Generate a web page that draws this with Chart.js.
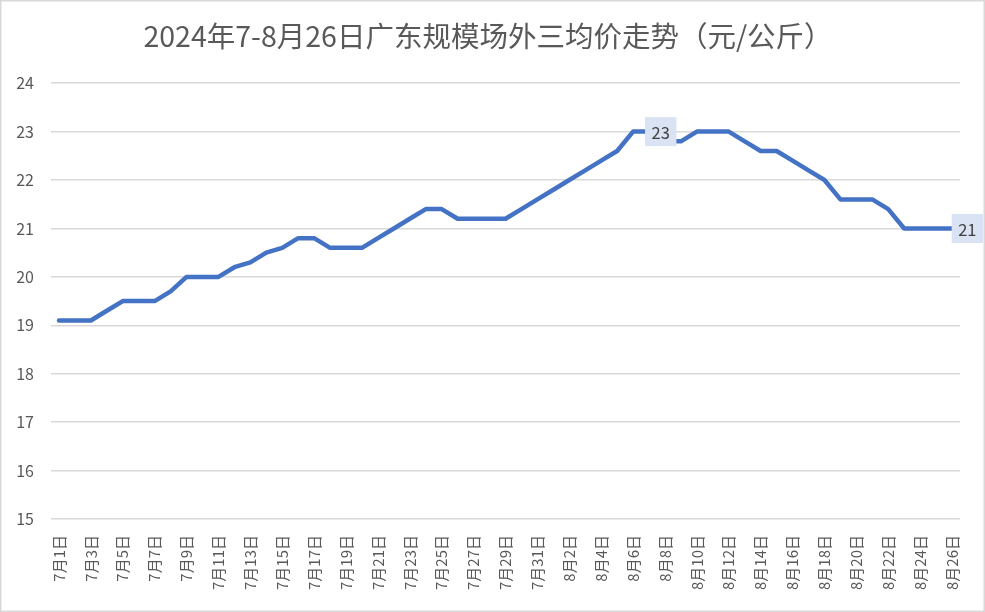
<!DOCTYPE html>
<html>
<head>
<meta charset="utf-8">
<script src="https://cdn.jsdelivr.net/npm/chart.js@4.4.1/dist/chart.umd.min.js"></script>
<style>
html,body{margin:0;padding:0;background:#fff;}
#wrap{width:985px;height:612px;position:relative;}
</style>
</head>
<body>
<div id="wrap"><canvas id="c" width="985" height="612"></canvas></div>
<script>
const titleText = '2024年7-8月26日广东规模场外三均价走势（元/公斤）';
const categories = [
  '7月1日','7月2日','7月3日','7月4日','7月5日','7月6日','7月7日','7月8日','7月9日','7月10日',
  '7月11日','7月12日','7月13日','7月14日','7月15日','7月16日','7月17日','7月18日','7月19日','7月20日',
  '7月21日','7月22日','7月23日','7月24日','7月25日','7月26日','7月27日','7月28日','7月29日','7月30日',
  '7月31日','8月1日','8月2日','8月3日','8月4日','8月5日','8月6日','8月7日','8月8日','8月9日',
  '8月10日','8月11日','8月12日','8月13日','8月14日','8月15日','8月16日','8月17日','8月18日','8月19日',
  '8月20日','8月21日','8月22日','8月23日','8月24日','8月25日','8月26日'
];
const prices = [
  19.1,19.1,19.1,19.3,19.5,19.5,19.5,19.7,20.0,20.0,
  20.0,20.2,20.3,20.5,20.6,20.8,20.8,20.6,20.6,20.6,
  20.8,21.0,21.2,21.4,21.4,21.2,21.2,21.2,21.2,21.4,
  21.6,21.8,22.0,22.2,22.4,22.6,23.0,23.0,22.8,22.8,
  23.0,23.0,23.0,22.8,22.6,22.6,22.4,22.2,22.0,21.6,
  21.6,21.6,21.4,21.0,21.0,21.0,21.0
];
const labeledIndices = [36, 56];
const yMin = 15, yMax = 24, yStep = 1;

const FONT = "'Noto Sans CJK SC', 'Noto Sans', sans-serif";

const bgPlugin = {
  id: 'bg',
  beforeDraw(chart) {
    const ctx = chart.ctx;
    ctx.save();
    ctx.fillStyle = '#ffffff';
    ctx.fillRect(0, 0, chart.width, chart.height);
    ctx.strokeStyle = '#d9d9d9';
    ctx.lineWidth = 1.5;
    ctx.strokeRect(0.75, 0.75, chart.width - 1.5, chart.height - 1.5);
    ctx.restore();
  }
};

const labelPlugin = {
  id: 'pointLabels',
  afterDatasetsDraw(chart) {
    const ctx = chart.ctx;
    const meta = chart.getDatasetMeta(0);
    ctx.save();
    ctx.font = '16.5px ' + FONT;
    labeledIndices.forEach(i => {
      const pt = meta.data[i];
      const txt = String(Math.round(prices[i]));
      const w = ctx.measureText(txt).width + 13;
      const h = 29;
      let left = pt.x + 12;
      if (left + w > chart.width - 2) left = chart.width - 2 - w;
      ctx.fillStyle = '#dae3f3';
      ctx.fillRect(left, pt.y - h / 2, w, h);
      ctx.fillStyle = '#404040';
      ctx.textAlign = 'center';
      ctx.textBaseline = 'middle';
      ctx.fillText(txt, left + w / 2, pt.y + 1);
    });
    ctx.restore();
  }
};

new Chart(document.getElementById('c'), {
  type: 'line',
  data: {
    labels: categories,
    datasets: [{
      data: prices,
      borderColor: '#4472c4',
      borderWidth: 4.5,
      pointRadius: 0,
      tension: 0,
      borderJoinStyle: 'round',
      borderCapStyle: 'round',
      fill: false
    }]
  },
  options: {
    responsive: false,
    animation: false,
    layout: { padding: { left: 16, right: 25, top: 0, bottom: 0 } },
    plugins: {
      legend: { display: false },
      tooltip: { enabled: false },
      title: {
        display: true,
        text: titleText,
        color: '#595959',
        font: { family: FONT, size: 28.5, weight: 'normal' },
        padding: { top: 19, bottom: 30 }
      }
    },
    scales: {
      x: {
        offset: true,
        grid: { display: false, drawTicks: false },
        border: { display: false },
        afterFit: function(s) { s.paddingLeft = 0; s.paddingRight = 0; s.height = 93; },
        ticks: {
          autoSkip: false,
          maxRotation: 90,
          minRotation: 90,
          padding: 16,
          color: '#595959',
          font: { family: FONT, size: 15 },
          callback: function(v, i) { return i % 2 === 0 ? categories[i] : ''; }
        }
      },
      y: {
        min: yMin,
        max: yMax,
        grid: { color: '#d9d9d9', lineWidth: 1.5, drawTicks: false },
        border: { display: false },
        afterFit: function(s) { s.width = 35; },
        ticks: {
          stepSize: yStep,
          padding: 17,
          color: '#595959',
          font: { family: FONT, size: 16 }
        }
      }
    }
  },
  plugins: [bgPlugin, labelPlugin]
});
</script>
</body>
</html>
